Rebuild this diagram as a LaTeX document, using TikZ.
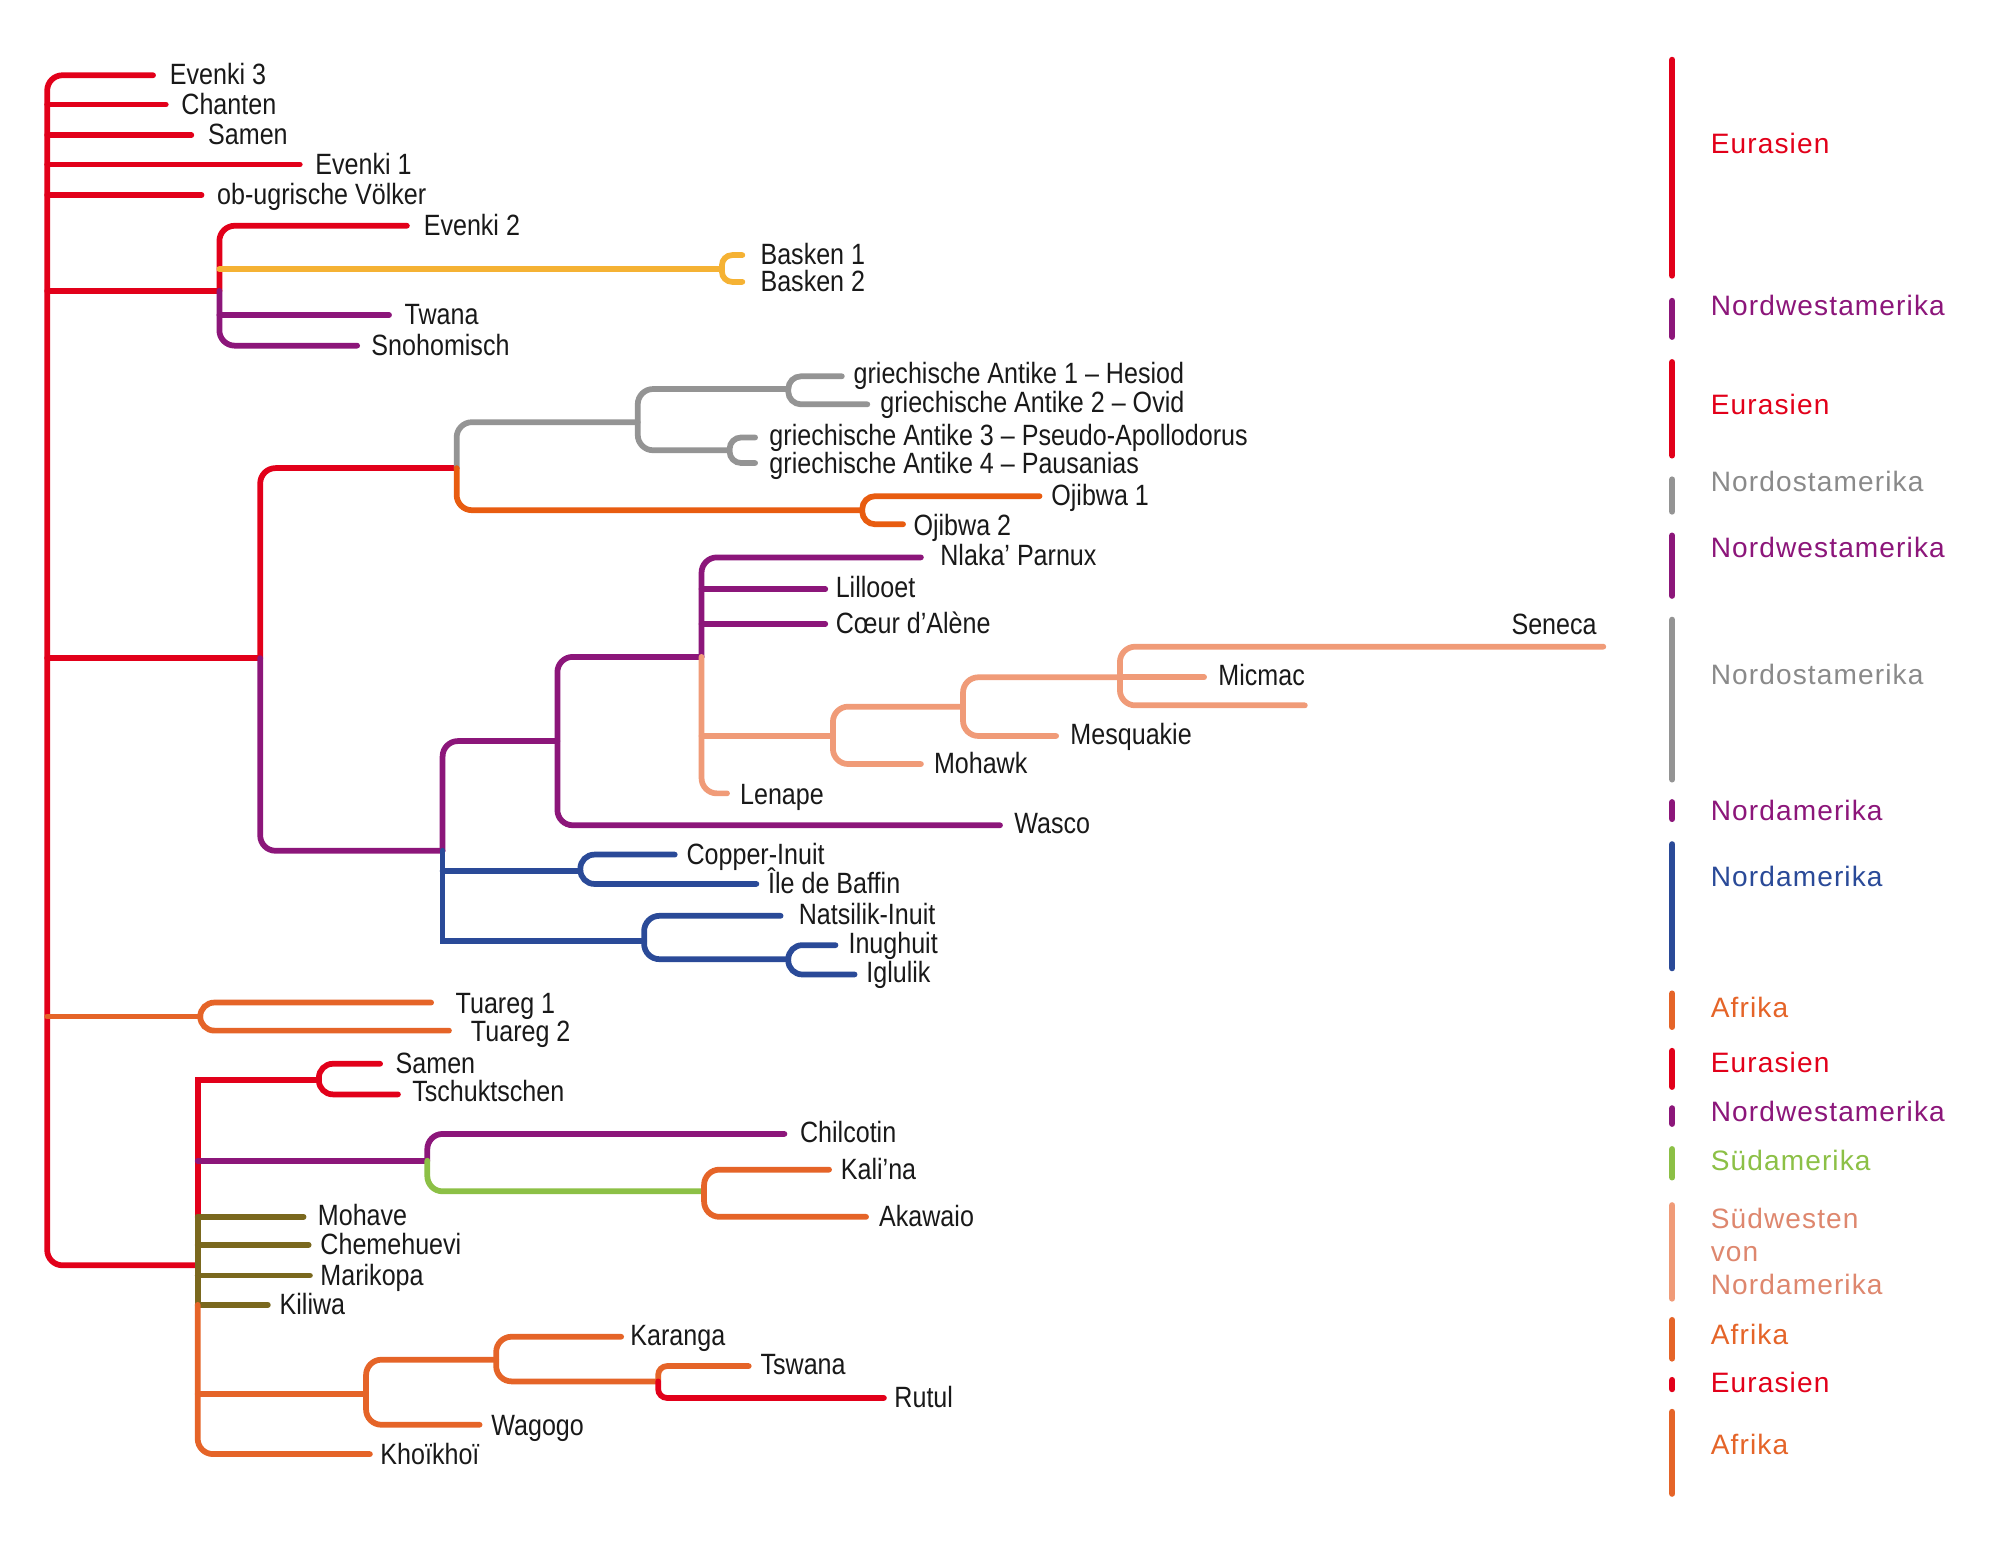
\documentclass[tikz,border=0pt]{standalone}
\usepackage{fontspec}
\setmainfont{Liberation Sans}[FakeStretch=0.855]
\newfontfamily\legfont{Liberation Sans}[LetterSpace=4]
\definecolor{cred}{RGB}{226,0,26}
\definecolor{cpur}{RGB}{140,22,122}
\definecolor{cyel}{RGB}{245,178,52}
\definecolor{cgry}{RGB}{148,148,148}
\definecolor{cgrytxt}{RGB}{138,138,138}
\definecolor{corg}{RGB}{232,92,16}
\definecolor{cafr}{RGB}{229,100,40}
\definecolor{csal}{RGB}{240,155,120}
\definecolor{csaltxt}{RGB}{222,135,110}
\definecolor{cblu}{RGB}{42,74,152}
\definecolor{coli}{RGB}{122,104,30}
\definecolor{cgrn}{RGB}{140,192,70}
\definecolor{ctxt}{RGB}{25,25,25}
\begin{document}
\begin{tikzpicture}[x=1pt,y=-1pt,line width=4.5pt,line cap=round,
  lab/.style={anchor=base west,inner sep=0pt,xshift=-2pt,yshift=-7.5pt,text=ctxt,font=\fontsize{23}{26}\selectfont},
  leg/.style={anchor=base west,inner sep=0pt,xshift=-1pt,yshift=-8pt,font=\legfont\fontsize{22}{25}\selectfont,align=left},
  bar/.style={line width=5pt}]
\useasboundingbox[fill=white] (0,0) rectangle (1568,1211.3);

% ---------- main stem ----------
\draw[cred,rounded corners=12] (120,59) -- (37,59) -- (37,992) -- (155,992);
\draw[cred] (37,82) -- (130,82);
\draw[cred] (37,106) -- (150,106);
\draw[cred] (37,129) -- (235,129);
\draw[cred] (37,153) -- (158,153);
\draw[cred] (37,228) -- (172,228);
\draw[cred] (37,516) -- (204,516);

% ---------- top subclade ----------
\draw[cred,rounded corners=12] (319,177) -- (172,177) -- (172,228);
\draw[cpur,rounded corners=12] (172,228) -- (172,271) -- (280,271);
\draw[cpur] (172,247) -- (305,247);
\draw[cyel] (172,211) -- (566,211);
\draw[cyel,rounded corners=8] (582,200) -- (566,200) -- (566,221) -- (582,221);

% ---------- middle clade ----------
\draw[cred,rounded corners=12] (358,367) -- (204,367) -- (204,516);
\draw[cpur,rounded corners=12] (204,516) -- (204,667) -- (347,667);
\draw[cgry,rounded corners=12] (500,331) -- (358,331) -- (358,367);
\draw[corg,rounded corners=12] (358,367) -- (358,400) -- (676,400);
\draw[cgry,rounded corners=12] (618,305) -- (500,305) -- (500,353) -- (572,353);
\draw[cgry,rounded corners=10] (660,295) -- (618,295) -- (618,317) -- (680,317);
\draw[cgry,rounded corners=9] (592,343) -- (572,343) -- (572,363) -- (592,363);
\draw[corg,rounded corners=10] (815,389) -- (676,389) -- (676,411) -- (708,411);

\draw[cpur,rounded corners=12] (437,581) -- (347,581) -- (347,667);
\draw[cblu] (347,667) -- (347,738) -- (505,738);
\draw[cblu] (347,683) -- (455,683);
\draw[cblu,rounded corners=11] (529,670) -- (455,670) -- (455,693) -- (593,693);
\draw[cblu,rounded corners=12] (612,718) -- (505,718) -- (505,752) -- (618,752);
\draw[cblu,rounded corners=11] (655,741) -- (618,741) -- (618,764) -- (670,764);

\draw[cpur,rounded corners=12] (550,515) -- (437,515) -- (437,647) -- (784,647);
\draw[cpur,rounded corners=12] (722,437) -- (550,437) -- (550,515);
\draw[cpur] (550,462) -- (647,462);
\draw[cpur] (550,489) -- (647,489);
\draw[csal,rounded corners=12] (550,515) -- (550,622) -- (570,622);
\draw[csal] (550,577) -- (653,577);
\draw[csal,rounded corners=12] (755,554) -- (653,554) -- (653,599) -- (722,599);
\draw[csal,rounded corners=12] (878,531) -- (755,531) -- (755,577) -- (828,577);
\draw[csal,rounded corners=12] (1257,507) -- (878,507) -- (878,553) -- (1023,553);
\draw[csal] (878,531) -- (944,531);

% ---------- Tuareg ----------
\draw[cafr] (37,797) -- (157,797);
\draw[cafr,rounded corners=11] (338,786) -- (157,786) -- (157,808) -- (352,808);

% ---------- bottom clade ----------
\draw[cred] (250,847) -- (155,847) -- (155,954);
\draw[cred,rounded corners=11] (298,834) -- (250,834) -- (250,858) -- (312,858);
\draw[cpur] (155,910) -- (335,910);
\draw[cpur,rounded corners=12] (615,889) -- (335,889) -- (335,910);
\draw[cgrn,rounded corners=12] (335,910) -- (335,934) -- (552,934);
\draw[cafr,rounded corners=12] (650,917) -- (552,917) -- (552,954) -- (679,954);
\draw[coli] (155,954) -- (155,1023);
\draw[coli] (155,954) -- (238,954);
\draw[coli] (155,976) -- (242,976);
\draw[coli] (155,1000) -- (243,1000);
\draw[coli] (155,1023) -- (210,1023);
\draw[cafr,rounded corners=12] (155,1023) -- (155,1140) -- (290,1140);
\draw[cafr] (155,1093) -- (287,1093);
\draw[cafr,rounded corners=12] (389,1066) -- (287,1066) -- (287,1117) -- (376,1117);
\draw[cafr,rounded corners=12] (487,1048) -- (389,1048) -- (389,1083) -- (516,1083);
\draw[cafr,rounded corners=7] (587,1071) -- (516,1071) -- (516,1083);
\draw[cred,rounded corners=7] (516,1083) -- (516,1096) -- (693,1096);

% ---------- labels ----------
\node[lab] (l1) at (133,59) {Evenki 3};
\node[lab] (l2) at (142,82) {Chanten};
\node[lab] (l3) at (163,106) {Samen};
\node[lab] (l4) at (247,129) {Evenki 1};
\node[lab] (l5) at (170,153) {ob-ugrische Völker};
\node[lab] (l6) at (332,177) {Evenki 2};
\node[lab] (l7) at (596,200) {Basken 1};
\node[lab] (l8) at (596,221) {Basken 2};
\node[lab] (l9) at (317,247) {Twana};
\node[lab] (l10) at (291,271) {Snohomisch};
\node[lab] (l11) at (669,293) {griechische Antike 1 – Hesiod};
\node[lab] (l12) at (690,316) {griechische Antike 2 – Ovid};
\node[lab] (l13) at (603,342) {griechische Antike 3 – Pseudo-Apollodorus};
\node[lab] (l14) at (603,364) {griechische Antike 4 – Pausanias};
\node[lab] (l15) at (824,389) {Ojibwa 1};
\node[lab] (l16) at (716,412) {Ojibwa 2};
\node[lab] (l17) at (737,436) {Nlaka’ Parnux};
\node[lab] (l18) at (655,461) {Lillooet};
\node[lab] (l19) at (655,489) {Cœur d’Alène};
\node[lab,anchor=base east,xshift=2pt] (l20) at (1254,490) {Seneca};
\node[lab] (l21) at (955,530) {Micmac};
\node[lab] (l22) at (839,576) {Mesquakie};
\node[lab] (l23) at (732,599) {Mohawk};
\node[lab] (l24) at (580,623) {Lenape};
\node[lab] (l25) at (795,646) {Wasco};
\node[lab] (l26) at (538,670) {Copper-Inuit};
\node[lab] (l27) at (602,693) {Île de Baffin};
\node[lab] (l28) at (626,717) {Natsilik-Inuit};
\node[lab] (l29) at (665,740) {Inughuit};
\node[lab] (l30) at (679,763) {Iglulik};
\node[lab] (l31) at (357,787) {Tuareg 1};
\node[lab] (l32) at (369,809) {Tuareg 2};
\node[lab] (l33) at (310,834) {Samen};
\node[lab] (l34) at (323,856) {Tschuktschen};
\node[lab] (l35) at (627,888) {Chilcotin};
\node[lab] (l36) at (659,917) {Kali’na};
\node[lab] (l37) at (689,954) {Akawaio};
\node[lab] (l38) at (249,953) {Mohave};
\node[lab] (l39) at (251,976) {Chemehuevi};
\node[lab] (l40) at (251,1000) {Marikopa};
\node[lab] (l41) at (219,1023) {Kiliwa};
\node[lab] (l42) at (494,1047) {Karanga};
\node[lab] (l43) at (596,1070) {Tswana};
\node[lab] (l44) at (701,1096) {Rutul};
\node[lab] (l45) at (385,1118) {Wagogo};
\node[lab] (l46) at (298,1141) {Khoïkhoï};

% ---------- legend ----------
\draw[bar,cred] (1311,47) -- (1311,216);
\node[leg,text=cred] (g1) at (1340,112) {Eurasien};
\draw[bar,cpur] (1311,236) -- (1311,264);
\node[leg,text=cpur] (g2) at (1340,239) {Nordwestamerika};
\draw[bar,cred] (1311,284) -- (1311,357);
\node[leg,text=cred] (g3) at (1340,317) {Eurasien};
\draw[bar,cgry] (1311,376) -- (1311,401);
\node[leg,text=cgrytxt] (g4) at (1340,377) {Nordostamerika};
\draw[bar,cpur] (1311,420) -- (1311,467);
\node[leg,text=cpur] (g5) at (1340,429) {Nordwestamerika};
\draw[bar,cgry] (1311,486) -- (1311,611);
\node[leg,text=cgrytxt] (g6) at (1340,529) {Nordostamerika};
\draw[bar,cpur] (1311,629) -- (1311,642);
\node[leg,text=cpur] (g7) at (1340,635) {Nordamerika};
\draw[bar,cblu] (1311,662) -- (1311,759);
\node[leg,text=cblu] (g8) at (1340,687) {Nordamerika};
\draw[bar,cafr] (1311,779) -- (1311,805);
\node[leg,text=cafr] (g9) at (1340,790) {Afrika};
\draw[bar,cred] (1311,824) -- (1311,852);
\node[leg,text=cred] (g10) at (1340,833) {Eurasien};
\draw[bar,cpur] (1311,869) -- (1311,881);
\node[leg,text=cpur] (g11) at (1340,871) {Nordwestamerika};
\draw[bar,cgrn] (1311,901) -- (1311,923);
\node[leg,text=cgrn] (g12) at (1340,910) {Südamerika};
\draw[bar,csal] (1311,945) -- (1311,1018);
\node[leg,text=csaltxt] (g13a) at (1340,955) {Südwesten};
\node[leg,text=csaltxt] (g13b) at (1340,981) {von};
\node[leg,text=csaltxt] (g13c) at (1340,1007) {Nordamerika};
\draw[bar,cafr] (1311,1035) -- (1311,1065);
\node[leg,text=cafr] (g14) at (1340,1046) {Afrika};
\draw[bar,cred] (1311,1082) -- (1311,1089);
\node[leg,text=cred] (g15) at (1340,1084) {Eurasien};
\draw[bar,cafr] (1311,1107) -- (1311,1171);
\node[leg,text=cafr] (g16) at (1340,1132) {Afrika};
\end{tikzpicture}
\end{document}
